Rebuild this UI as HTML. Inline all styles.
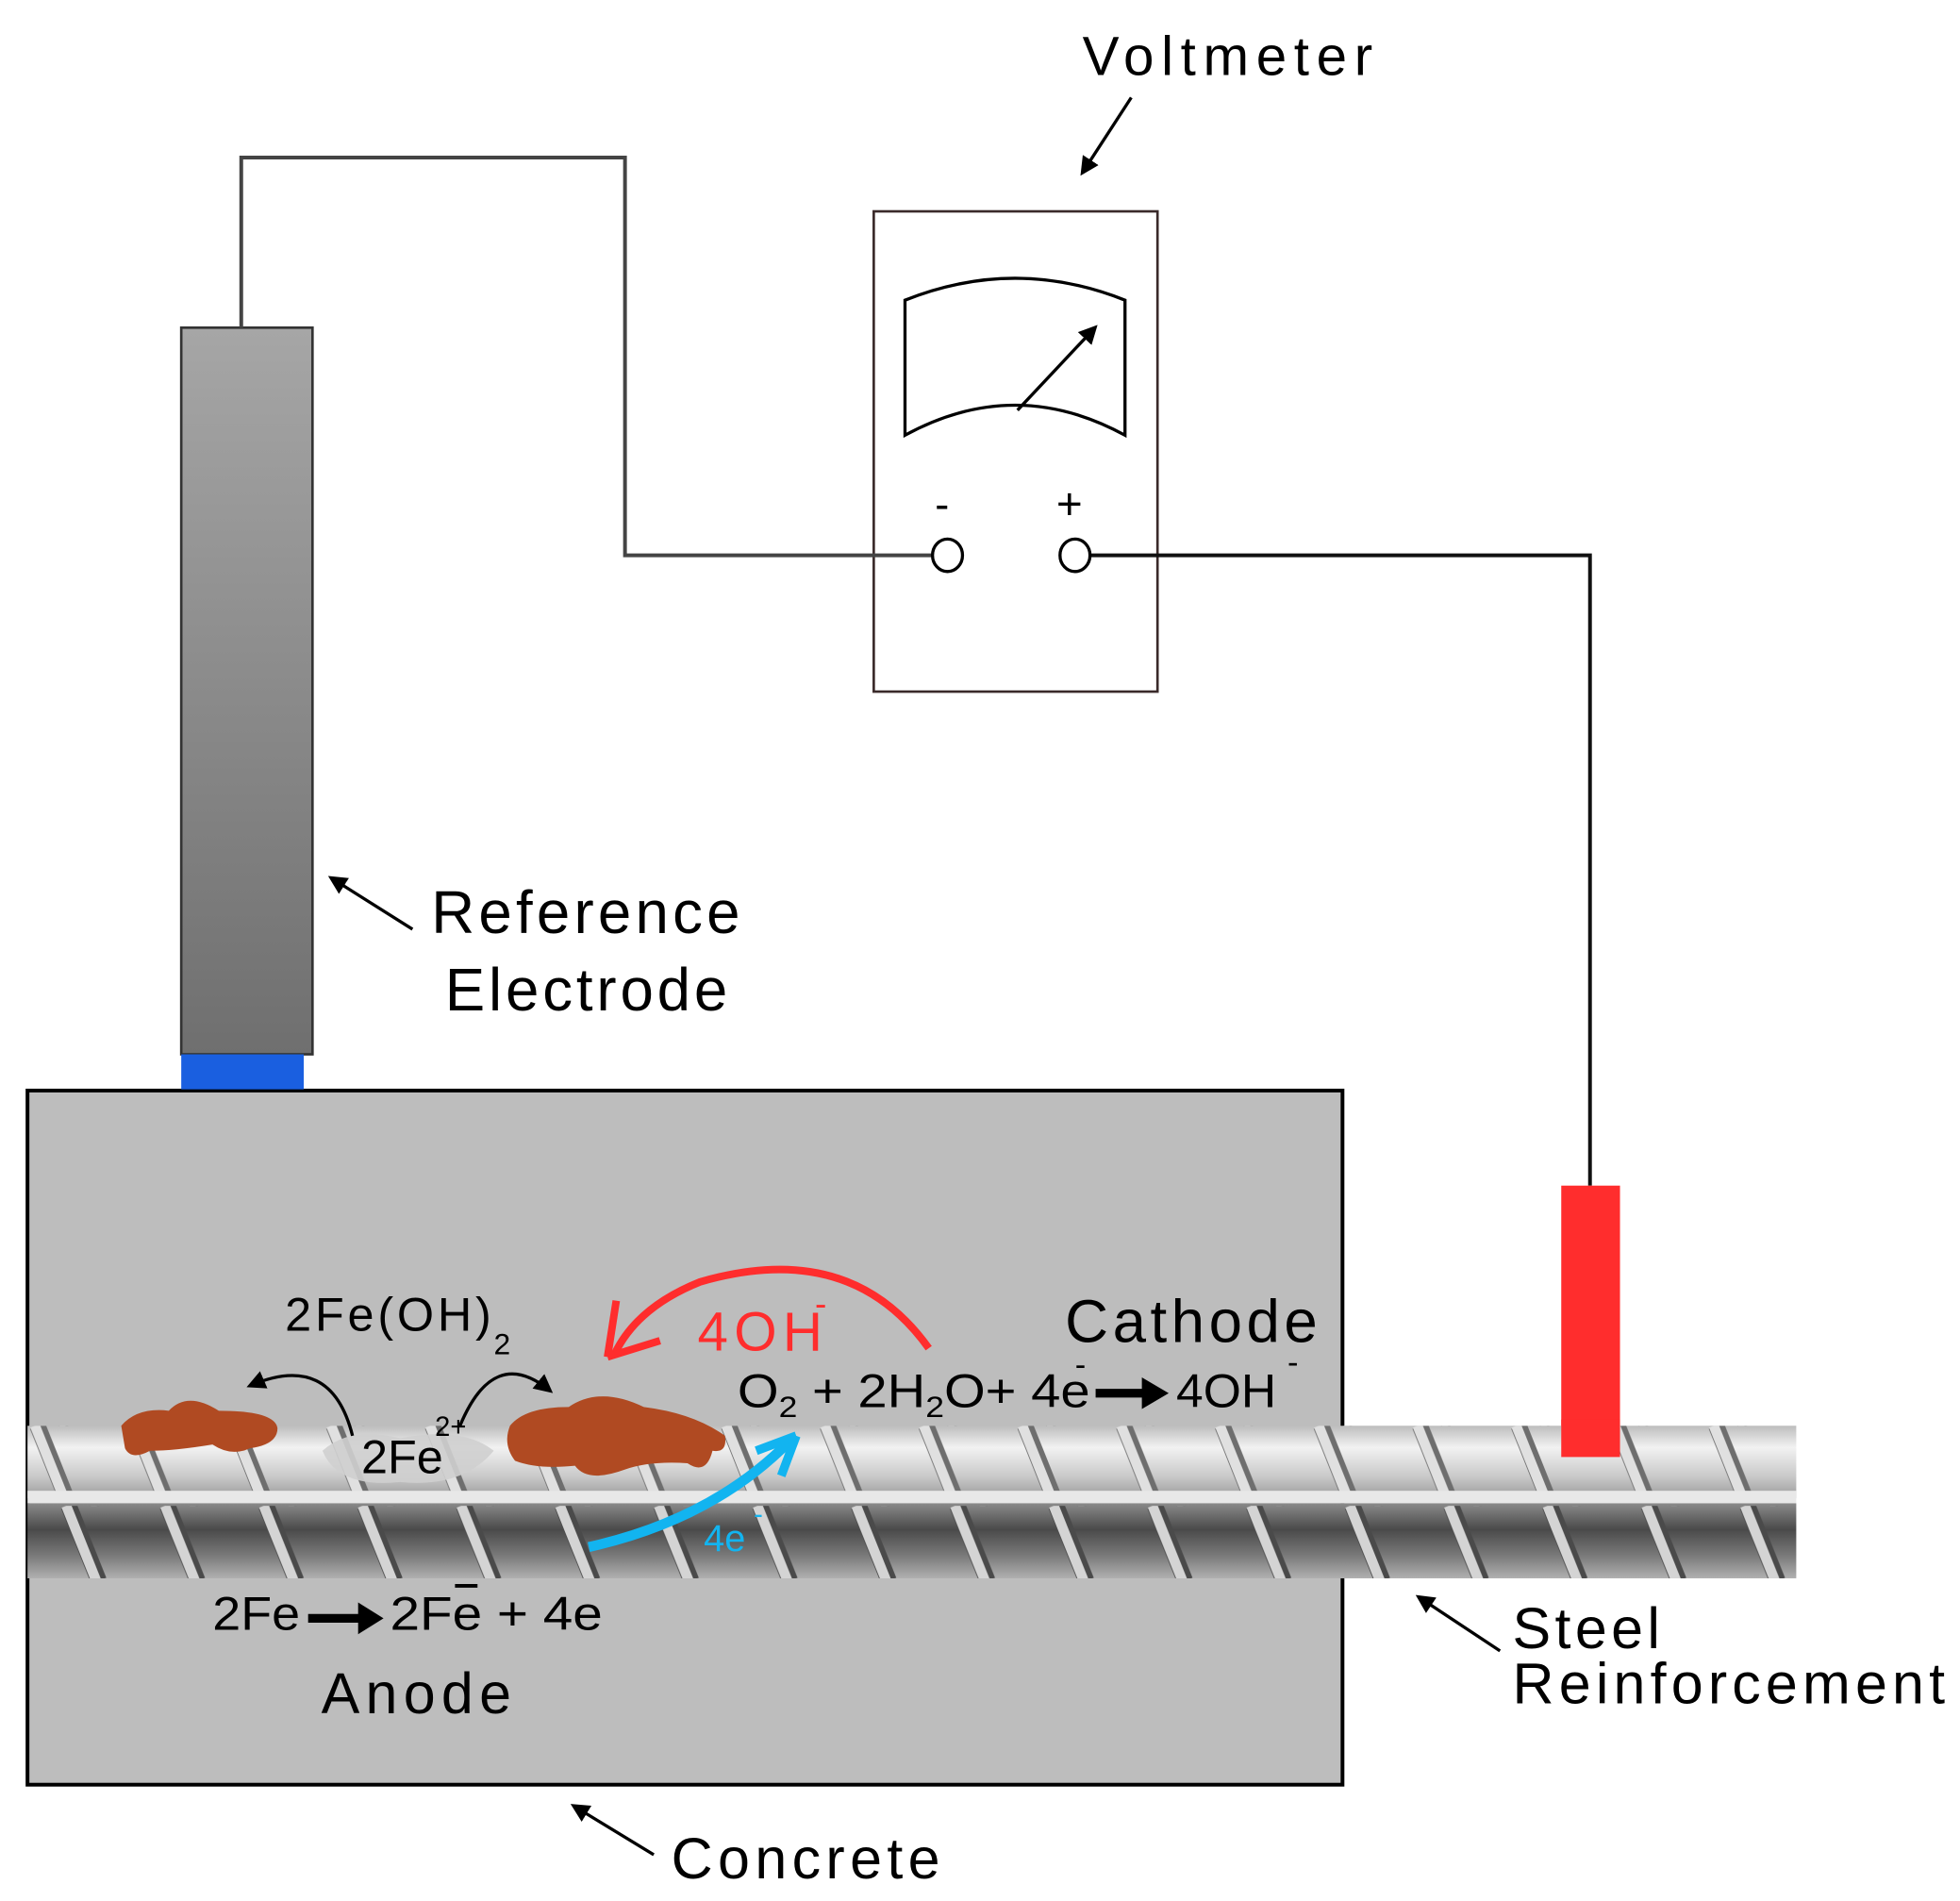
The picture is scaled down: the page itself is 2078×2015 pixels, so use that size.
<!DOCTYPE html>
<html><head><meta charset="utf-8"><style>html,body{margin:0;padding:0;background:#fff}svg{display:block}text{font-family:"Liberation Sans",sans-serif}</style></head><body>
<svg width="2078" height="2015" viewBox="0 0 1568 1520" preserveAspectRatio="none" xmlns="http://www.w3.org/2000/svg">
<defs>
<linearGradient id="el" x1="0" x2="0" y1="0" y2="1"><stop offset="0" stop-color="#a6a6a6"/><stop offset="1" stop-color="#6f6f6f"/></linearGradient>
<linearGradient id="up" x1="0" x2="0" y1="0" y2="1"><stop offset="0" stop-color="#bdbdbd"/><stop offset="0.3" stop-color="#f2f2f2"/><stop offset="0.7" stop-color="#c9c9c9"/><stop offset="1" stop-color="#9a9a9a"/></linearGradient>
<linearGradient id="lo" x1="0" x2="0" y1="0" y2="1"><stop offset="0" stop-color="#8a8a8a"/><stop offset="0.35" stop-color="#4a4a4a"/><stop offset="0.7" stop-color="#7a7a7a"/><stop offset="1" stop-color="#b0b0b0"/></linearGradient>
<pattern id="ribU" patternUnits="userSpaceOnUse" x="22" y="1140" width="79" height="60"><line x1="8" y1="0" x2="32" y2="60" stroke="#6e6e6e" stroke-width="13"/><line x1="6" y1="0" x2="30" y2="60" stroke="#e0e0e0" stroke-width="8"/></pattern>
<pattern id="ribL" patternUnits="userSpaceOnUse" x="22" y="1204" width="79" height="60"><line x1="33" y1="0" x2="57" y2="60" stroke="#4a4a4a" stroke-width="13"/><line x1="31" y1="0" x2="55" y2="60" stroke="#d4d4d4" stroke-width="8"/></pattern>
<marker id="ah" viewBox="0 0 10 10" refX="8" refY="5" markerWidth="6" markerHeight="6" orient="auto"><path d="M0,0 L10,5 L0,10 z" fill="#000"/></marker>
</defs>
<rect x="22" y="872" width="1052" height="555" fill="#bdbdbd" stroke="#000" stroke-width="3"/>
<rect x="145" y="262" width="105" height="581" fill="url(#el)" stroke="#333" stroke-width="2"/>
<rect x="145" y="843" width="98" height="28" fill="#1a5fe0"/>
<rect x="699" y="169" width="227" height="384" fill="#fff" stroke="#3a2a2a" stroke-width="2"/>
<polyline points="193,262 193,126 500,126 500,444 746,444" fill="none" stroke="#444" stroke-width="3"/>
<polyline points="872,444 1272,444 1272,948" fill="none" stroke="#111" stroke-width="3"/>
<path d="M724,348 L724,240 Q812,205 900,240 L900,348 Q812,300 724,348 Z" fill="#fff" stroke="#000" stroke-width="2.5"/>
<line x1="814" y1="328" x2="876" y2="262" stroke="#000" stroke-width="2.5" marker-end="url(#ah)"/>
<text x="748" y="415" font-size="34">-</text>
<text x="845" y="415" font-size="36">+</text>
<ellipse cx="758" cy="444" rx="12" ry="13" fill="#fff" stroke="#000" stroke-width="2.5"/>
<ellipse cx="860" cy="444" rx="12" ry="13" fill="#fff" stroke="#000" stroke-width="2.5"/>
<rect x="1249" y="948" width="47" height="217" fill="#ff2d2d"/>
<rect x="22" y="1140" width="1415" height="58" fill="url(#up)"/>
<rect x="22" y="1140" width="1415" height="58" fill="url(#ribU)"/>
<rect x="22" y="1192" width="1415" height="10" fill="#e8e8e8"/>
<rect x="22" y="1202" width="1415" height="60" fill="url(#lo)"/>
<rect x="22" y="1204" width="1415" height="58" fill="url(#ribL)"/>
<rect x="1249" y="1135" width="47" height="30" fill="#ff2d2d"/>
<path d="M97,1140 Q110,1125 135,1128 Q150,1112 175,1128 Q220,1128 222,1142 Q222,1155 200,1158 Q185,1165 170,1155 Q140,1160 120,1160 Q105,1168 100,1158 Z" fill="#b04a22"/>
<path d="M408,1140 Q420,1125 455,1125 Q480,1108 515,1125 Q555,1130 580,1148 Q582,1162 570,1160 Q565,1180 550,1170 Q520,1168 500,1175 Q470,1186 460,1172 Q430,1175 412,1168 Q402,1155 408,1140 Z" fill="#b04a22"/>
<path d="M258,1160 Q280,1140 320,1150 Q370,1140 395,1160 Q370,1190 320,1185 Q270,1190 258,1160 Z" fill="#cfcfcf" opacity="0.9"/>
<path d="M282,1148 Q265,1080 200,1108" fill="none" stroke="#000" stroke-width="2.5" marker-end="url(#ah)"/>
<path d="M368,1140 Q395,1075 440,1112" fill="none" stroke="#000" stroke-width="2.5" marker-end="url(#ah)"/>
<path d="M743,1078 Q680,990 560,1025 Q510,1045 492,1082" fill="none" stroke="#ff2d2d" stroke-width="6"/>
<path d="M486,1085 L493,1040 M486,1085 L528,1072" stroke="#ff2d2d" stroke-width="6" fill="none"/>
<path d="M471,1237 Q570,1215 632,1152" fill="none" stroke="#12b4f0" stroke-width="8"/>
<path d="M637,1148 L605,1160 M637,1148 L625,1180" stroke="#12b4f0" stroke-width="7" fill="none"/>
<text x="866" y="60" font-size="44" textLength="232">Voltmeter</text>
<line x1="905" y1="78" x2="866" y2="138" stroke="#000" stroke-width="2.5" marker-end="url(#ah)"/>
<text x="345" y="746" font-size="48" textLength="247">Reference</text>
<text x="356" y="808" font-size="48" textLength="226">Electrode</text>
<line x1="330" y1="743" x2="265" y2="702" stroke="#000" stroke-width="2.5" marker-end="url(#ah)"/>
<text x="852" y="1073" font-size="48" textLength="202">Cathode</text>
<text x="228" y="1064" font-size="38" textLength="165">2Fe(OH)</text>
<text x="395" y="1083" font-size="24">2</text>
<text x="558" y="1080" font-size="44" fill="#ff2d2d" textLength="100">4OH</text>
<text x="652" y="1052" font-size="28" fill="#ff2d2d">-</text>
<text x="590" y="1125" font-size="38" textLength="282" lengthAdjust="spacingAndGlyphs">O<tspan font-size="24" dy="8">2</tspan><tspan dy="-8"> + 2H</tspan><tspan font-size="24" dy="8">2</tspan><tspan dy="-8">O+ 4e</tspan></text>
<text x="860" y="1100" font-size="26">-</text>
<path d="M878,1112 L915,1112 L915,1104 L932,1114 L915,1124 L915,1116 L878,1116 Z" fill="#000" stroke="#000" stroke-width="3"/>
<text x="941" y="1125" font-size="38" textLength="80" lengthAdjust="spacingAndGlyphs">4OH</text>
<text x="1030" y="1098" font-size="26">-</text>
<text x="289" y="1178" font-size="38">2Fe</text>
<text x="348" y="1148" font-size="22">2+</text>
<text x="563" y="1240" font-size="30" fill="#12b4f0">4e</text>
<text x="603" y="1218" font-size="22" fill="#12b4f0">-</text>
<text x="170" y="1303" font-size="38" textLength="70" lengthAdjust="spacingAndGlyphs">2Fe</text>
<path d="M248,1292 L288,1292 L288,1284 L304,1294 L288,1304 L288,1296 L248,1296 Z" fill="#000" stroke="#000" stroke-width="3"/>
<text x="312" y="1303" font-size="38" textLength="170" lengthAdjust="spacingAndGlyphs">2Fe + 4e</text>
<line x1="364" y1="1268" x2="382" y2="1268" stroke="#000" stroke-width="3"/>
<text x="257" y="1370" font-size="46" textLength="152">Anode</text>
<text x="1210" y="1318" font-size="46" textLength="118">Steel</text>
<text x="1210" y="1362" font-size="46" textLength="346">Reinforcement</text>
<line x1="1200" y1="1320" x2="1135" y2="1277" stroke="#000" stroke-width="2.5" marker-end="url(#ah)"/>
<text x="537" y="1502" font-size="46" textLength="215">Concrete</text>
<line x1="523" y1="1483" x2="459" y2="1444" stroke="#000" stroke-width="2.5" marker-end="url(#ah)"/>
</svg>
</body></html>
